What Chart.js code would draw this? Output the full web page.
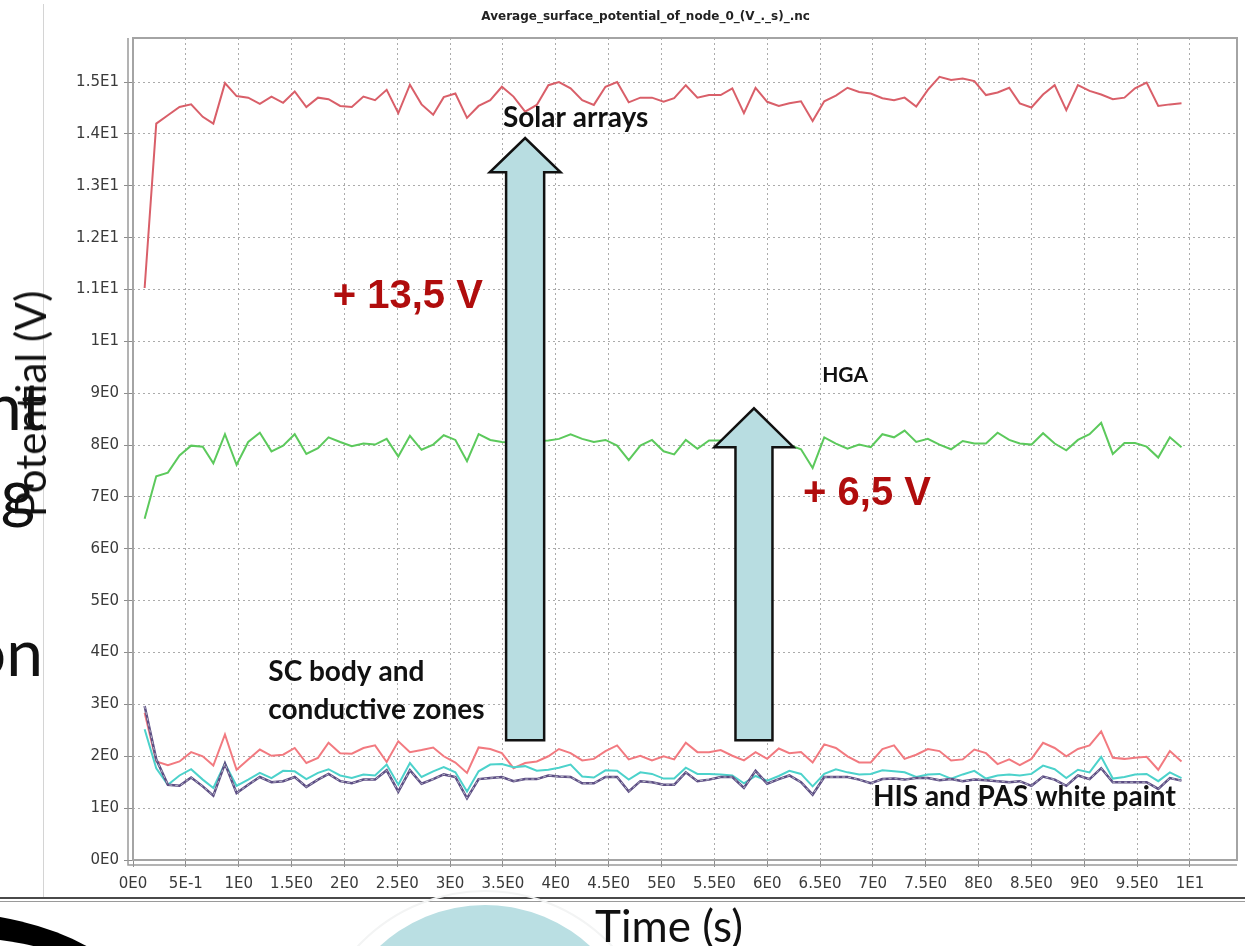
<!DOCTYPE html>
<html>
<head>
<meta charset="utf-8">
<title>Average surface potential</title>
<script src="https://cdn.jsdelivr.net/npm/chart.js@4.4.1/dist/chart.umd.min.js"></script>
<style>
  html, body { margin: 0; padding: 0; background: #fff; }
  body { width: 1249px; height: 946px; position: relative; overflow: hidden; font-family: Lato, "Open Sans", sans-serif; }
  #slide-text { position: absolute; left: 0; top: 0; width: 43px; height: 900px; overflow: hidden; }
  #slide-text div { position: absolute; font-size: 66px; color: #111; line-height: 1; white-space: nowrap; }
  #shot-edge { position: absolute; left: 43px; top: 4px; width: 1px; height: 893px; background: #d4d4d4; }
  #shot-bottom { position: absolute; left: 0; top: 897px; width: 1245px; height: 2px; border-top: 2px solid #4a4a4a; border-bottom: 1px solid #9a9a9a; }
  #chart { position: absolute; left: 0; top: 0; }
  #ylabel { position: absolute; left: 30px; top: 404px; transform: translate(-50%, -50%) rotate(-90deg); font-size: 42px; color: #111; white-space: nowrap; }
  #xlabel { position: absolute; left: 669px; top: 925px; transform: translate(-50%, -50%); font-size: 44px; color: #111; white-space: nowrap; }
  #blob-black { position: absolute; left: -270px; top: 912px; width: 420px; height: 240px; border-radius: 50%; border-top: 24px solid #000; box-sizing: border-box; }
  #blob-ring { position: absolute; left: 310px; top: 890px; width: 350px; height: 350px; border-radius: 50%; border: 2px solid #f3f4f4; box-sizing: border-box; }
  #blob-blue { position: absolute; left: 330px; top: 905px; width: 310px; height: 310px; border-radius: 50%; background: #badfe3; }
</style>
</head>
<body>
<div id="slide-text">
  <div style="right:-2px; top:372px;">nt</div>
  <div style="right:8px; top:458px;">g</div>
  <div style="right:0px; top:618px;">on</div>
</div>
<div id="shot-edge"></div>
<div id="shot-bottom"></div>
<div id="blob-ring"></div>
<div id="blob-blue"></div>
<div id="blob-black"></div>
<canvas id="chart" width="1249" height="946"></canvas>
<div id="ylabel">Potential (V)</div>
<div id="xlabel">Time (s)</div>

<script>
// time samples (s)
const times = [
  0.11, 0.22, 0.33, 0.44, 0.55, 0.66, 0.76, 0.87, 0.98, 1.09,
  1.2, 1.31, 1.42, 1.53, 1.64, 1.75, 1.85, 1.96, 2.07, 2.18,
  2.29, 2.4, 2.51, 2.62, 2.73, 2.84, 2.94, 3.05, 3.16, 3.27,
  3.38, 3.49, 3.6, 3.71, 3.82, 3.93, 4.03, 4.14, 4.25, 4.36,
  4.47, 4.58, 4.69, 4.8, 4.91, 5.02, 5.12, 5.23, 5.34, 5.45,
  5.56, 5.67, 5.78, 5.89, 6.0, 6.11, 6.21, 6.32, 6.43, 6.54,
  6.65, 6.76, 6.87, 6.98, 7.09, 7.2, 7.3, 7.41, 7.52, 7.63,
  7.74, 7.85, 7.96, 8.07, 8.18, 8.29, 8.39, 8.5, 8.61, 8.72,
  8.83, 8.94, 9.05, 9.16, 9.27, 9.38, 9.48, 9.59, 9.7, 9.81,
  9.92
];

// average potential per node (V)
const solarArrays = [
  11.03, 14.2, 14.36, 14.52, 14.57, 14.33, 14.2, 14.98, 14.73, 14.7,
  14.58, 14.72, 14.6, 14.82, 14.52, 14.7, 14.67, 14.54, 14.52, 14.72,
  14.65, 14.85, 14.4, 14.95, 14.57, 14.37, 14.71, 14.78, 14.31, 14.54,
  14.65, 14.91, 14.72, 14.43, 14.56, 14.94, 15.0, 14.88, 14.65, 14.56,
  14.91, 15.0, 14.61, 14.7, 14.7, 14.62, 14.69, 14.94, 14.7, 14.75,
  14.75, 14.88, 14.4, 14.89, 14.62, 14.54, 14.59, 14.63, 14.25, 14.63,
  14.74, 14.89, 14.81, 14.78, 14.69, 14.65, 14.7, 14.53, 14.85, 15.1,
  15.04, 15.07, 15.02, 14.75, 14.8, 14.89, 14.59, 14.51, 14.76, 14.94,
  14.46, 14.94, 14.83, 14.76, 14.67, 14.7, 14.88, 14.99, 14.54, 14.57,
  14.59
];

const hga = [
  6.58, 7.40, 7.47, 7.80, 7.99, 7.97, 7.65, 8.21, 7.62, 8.06,
  8.24, 7.88, 7.99, 8.21, 7.83, 7.94, 8.15, 8.06, 7.98, 8.03,
  8.01, 8.12, 7.78, 8.18, 7.91, 8.01, 8.19, 8.10, 7.69, 8.21,
  8.10, 8.06, 8.05, 8.10, 8.08, 8.09, 8.12, 8.21, 8.12, 8.06,
  8.10, 7.99, 7.71, 7.99, 8.10, 7.88, 7.82, 8.10, 7.93, 8.09,
  8.09, 8.05, 8.10, 8.00, 8.05, 8.00, 8.00, 7.92, 7.56, 8.15,
  8.03, 7.93, 8.01, 7.96, 8.21, 8.15, 8.28, 8.06, 8.12, 8.01,
  7.92, 8.08, 8.03, 8.03, 8.24, 8.10, 8.03, 8.01, 8.23, 8.03,
  7.90, 8.10, 8.21, 8.43, 7.83, 8.04, 8.04, 7.97, 7.76, 8.15,
  7.96
];

const scBody = [
  2.84, 1.90, 1.83, 1.90, 2.08, 2.00, 1.82, 2.42, 1.74, 1.94,
  2.13, 2.01, 2.03, 2.16, 1.87, 1.97, 2.26, 2.06, 2.05, 2.16,
  2.21, 1.89, 2.29, 2.08, 2.12, 2.17, 2.00, 1.88, 1.68, 2.17,
  2.14, 2.06, 1.77, 1.87, 1.90, 2.00, 2.14, 2.06, 1.92, 1.95,
  2.10, 2.21, 1.94, 2.01, 1.92, 2.00, 1.94, 2.26, 2.08, 2.08,
  2.12, 2.01, 1.92, 2.08, 1.95, 2.15, 2.06, 2.08, 1.88, 2.23,
  2.16, 2.00, 1.88, 1.88, 2.14, 2.21, 1.95, 2.03, 2.14, 2.10,
  1.92, 1.94, 2.13, 2.06, 1.85, 1.94, 1.83, 1.95, 2.26, 2.16,
  2.00, 2.14, 2.21, 2.48, 1.97, 1.95, 1.97, 1.99, 1.74, 2.10,
  1.90
];

const conductive = [
  2.52, 1.77, 1.45, 1.63, 1.75, 1.55, 1.39, 1.86, 1.43, 1.55,
  1.68, 1.58, 1.72, 1.71, 1.56, 1.68, 1.75, 1.63, 1.58, 1.65,
  1.63, 1.84, 1.45, 1.87, 1.60, 1.71, 1.79, 1.69, 1.32, 1.71,
  1.84, 1.85, 1.79, 1.81, 1.72, 1.74, 1.78, 1.84, 1.61, 1.59,
  1.73, 1.72, 1.55, 1.69, 1.66, 1.57, 1.57, 1.78, 1.66, 1.66,
  1.65, 1.63, 1.48, 1.62, 1.53, 1.62, 1.72, 1.66, 1.42, 1.66,
  1.75, 1.69, 1.65, 1.66, 1.73, 1.71, 1.69, 1.60, 1.65, 1.66,
  1.57, 1.65, 1.72, 1.57, 1.63, 1.65, 1.63, 1.66, 1.82, 1.75,
  1.58, 1.74, 1.69, 1.99, 1.57, 1.60, 1.65, 1.66, 1.52, 1.69,
  1.58
];

const whitePaint = [
  2.97, 1.94, 1.45, 1.43, 1.59, 1.42, 1.24, 1.86, 1.29, 1.45,
  1.60, 1.50, 1.52, 1.60, 1.41, 1.55, 1.66, 1.52, 1.48, 1.55,
  1.55, 1.73, 1.32, 1.73, 1.47, 1.56, 1.65, 1.60, 1.19, 1.56,
  1.58, 1.60, 1.52, 1.56, 1.56, 1.63, 1.61, 1.60, 1.48, 1.48,
  1.60, 1.60, 1.32, 1.52, 1.50, 1.45, 1.45, 1.69, 1.52, 1.55,
  1.60, 1.60, 1.39, 1.72, 1.47, 1.56, 1.63, 1.50, 1.26, 1.60,
  1.60, 1.60, 1.55, 1.48, 1.56, 1.57, 1.55, 1.58, 1.58, 1.54,
  1.56, 1.52, 1.55, 1.54, 1.52, 1.50, 1.52, 1.43, 1.61, 1.55,
  1.43, 1.63, 1.56, 1.77, 1.50, 1.50, 1.50, 1.50, 1.37, 1.58,
  1.53
];

// axis ticks
const xTickValues = [0, 0.5, 1, 1.5, 2, 2.5, 3, 3.5, 4, 4.5, 5, 5.5, 6, 6.5, 7, 7.5, 8, 8.5, 9, 9.5, 10];
const xTickLabels = ['0E0', '5E-1', '1E0', '1.5E0', '2E0', '2.5E0', '3E0', '3.5E0', '4E0', '4.5E0', '5E0',
  '5.5E0', '6E0', '6.5E0', '7E0', '7.5E0', '8E0', '8.5E0', '9E0', '9.5E0', '1E1'];
const yTickValues = [0, 1, 2, 3, 4, 5, 6, 7, 8, 9, 10, 11, 12, 13, 14, 15];
const yTickLabels = ['0E0', '1E0', '2E0', '3E0', '4E0', '5E0', '6E0', '7E0', '8E0', '9E0',
  '1E1', '1.1E1', '1.2E1', '1.3E1', '1.4E1', '1.5E1'];

const chartTitle = 'Average_surface_potential_of_node_0_(V_._s)_.nc';

// arrows and notes, placed in data units
const arrows = [
  { x: 3.71, base: 2.31, headBase: 13.26, tip: 13.92, shaft: 0.18, head: 0.335 },
  { x: 5.875, base: 2.31, headBase: 7.96, tip: 8.71, shaft: 0.175, head: 0.374 }
];
const notes = [
  { text: 'Solar arrays', x: 3.5, y: 14.31, font: 'bold 28px Lato', color: '#111' },
  { text: 'HGA', x: 6.52, y: 9.35, font: 'bold 21px Lato', color: '#111' },
  { text: 'SC body and', x: 1.28, y: 3.62, font: 'bold 28px Lato', color: '#111' },
  { text: 'conductive zones', x: 1.28, y: 2.89, font: 'bold 28px Lato', color: '#111' },
  { text: 'HIS and PAS white paint', x: 7.0, y: 1.21, font: 'bold 28px Lato', color: '#111' },
  { text: '+ 13,5 V', x: 1.89, y: 10.85, font: 'bold 40px "Liberation Sans"', color: '#b00d0d' },
  { text: '+ 6,5 V', x: 6.34, y: 7.06, font: 'bold 40px "Liberation Sans"', color: '#b00d0d' }
];

function toPoints(values) {
  return times.map((t, i) => ({ x: t, y: values[i] }));
}

function series(label, values, color, width, order, dash) {
  return {
    label: label,
    data: toPoints(values),
    borderColor: color,
    borderWidth: width,
    borderDash: dash || [],
    pointRadius: 0,
    tension: 0,
    fill: false,
    order: order
  };
}

const decor = {
  id: 'decor',
  beforeDatasetsDraw(chart) {
    const { ctx, chartArea: a } = chart;
    ctx.save();
    ctx.strokeStyle = '#a4a4a4';
    ctx.lineWidth = 2;
    ctx.strokeRect(a.left, a.top, a.right - a.left, a.bottom - a.top);
    ctx.lineWidth = 1.5;
    ctx.strokeStyle = '#9a9a9a';
    ctx.beginPath();
    ctx.moveTo(a.left - 5, a.top);
    ctx.lineTo(a.left - 5, a.bottom + 5);
    ctx.lineTo(a.right, a.bottom + 5);
    ctx.stroke();
    ctx.restore();
  },
  afterDatasetsDraw(chart) {
    const { ctx, scales } = chart;
    const px = v => scales.x.getPixelForValue(v);
    const py = v => scales.y.getPixelForValue(v);
    ctx.save();
    // arrows
    arrows.forEach(ar => {
      ctx.beginPath();
      ctx.moveTo(px(ar.x - ar.shaft), py(ar.base));
      ctx.lineTo(px(ar.x - ar.shaft), py(ar.headBase));
      ctx.lineTo(px(ar.x - ar.head), py(ar.headBase));
      ctx.lineTo(px(ar.x), py(ar.tip));
      ctx.lineTo(px(ar.x + ar.head), py(ar.headBase));
      ctx.lineTo(px(ar.x + ar.shaft), py(ar.headBase));
      ctx.lineTo(px(ar.x + ar.shaft), py(ar.base));
      ctx.closePath();
      ctx.fillStyle = '#b8dde1';
      ctx.fill();
      ctx.lineWidth = 2.5;
      ctx.strokeStyle = '#111';
      ctx.lineJoin = 'miter';
      ctx.stroke();
    });
    // notes
    ctx.textBaseline = 'middle';
    ctx.textAlign = 'left';
    notes.forEach(n => {
      ctx.font = n.font;
      ctx.fillStyle = n.color;
      ctx.fillText(n.text, px(n.x), py(n.y));
    });
    // title
    ctx.font = 'bold 12px "DejaVu Sans"';
    ctx.fillStyle = '#222';
    ctx.textAlign = 'center';
    ctx.fillText(chartTitle, px(4.85), 17);
    ctx.restore();
  }
};

const tickFont = { family: 'DejaVu Sans', size: 15 };

new Chart(document.getElementById('chart').getContext('2d'), {
  type: 'line',
  data: {
    datasets: [
      series('HIS and PAS white paint (overlay)', whitePaint, '#b9b9c9', 1, 0, [3, 3]),
      series('HIS and PAS white paint', whitePaint, '#5d4e84', 2.5, 1),
      series('Conductive zones', conductive, '#4cd2cb', 2, 2),
      series('SC body', scBody, '#f27a80', 2, 3),
      series('HGA', hga, '#5cc95c', 2, 4),
      series('Solar arrays', solarArrays, '#d95f69', 2, 5)
    ]
  },
  options: {
    responsive: false,
    animation: false,
    layout: { padding: { top: 38, right: 12, left: 0, bottom: 0 } },
    plugins: {
      legend: { display: false },
      tooltip: { enabled: false },
      title: { display: false }
    },
    scales: {
      x: {
        type: 'linear',
        min: 0,
        max: 10.445,
        afterBuildTicks: s => { s.ticks = xTickValues.map(v => ({ value: v })); },
        afterFit: s => { s.height = 86; },
        ticks: {
          autoSkip: false,
          maxRotation: 0,
          padding: 8,
          color: '#3a3a3a',
          font: tickFont,
          callback: v => xTickLabels[xTickValues.indexOf(v)]
        },
        grid: { color: '#ababab', lineWidth: 1, tickLength: 7, tickColor: '#8c8c8c' },
        border: { display: false, dash: [2, 3] }
      },
      y: {
        type: 'linear',
        min: 0,
        max: 15.85,
        afterBuildTicks: s => { s.ticks = yTickValues.map(v => ({ value: v })); },
        afterFit: s => { s.width = 133; },
        ticks: {
          autoSkip: false,
          padding: 5,
          color: '#3a3a3a',
          font: tickFont,
          callback: v => yTickLabels[yTickValues.indexOf(v)]
        },
        grid: { color: '#ababab', lineWidth: 1, tickLength: 9, tickColor: '#8c8c8c' },
        border: { display: false, dash: [2, 3] }
      }
    }
  },
  plugins: [decor]
});
</script>
</body>
</html>
